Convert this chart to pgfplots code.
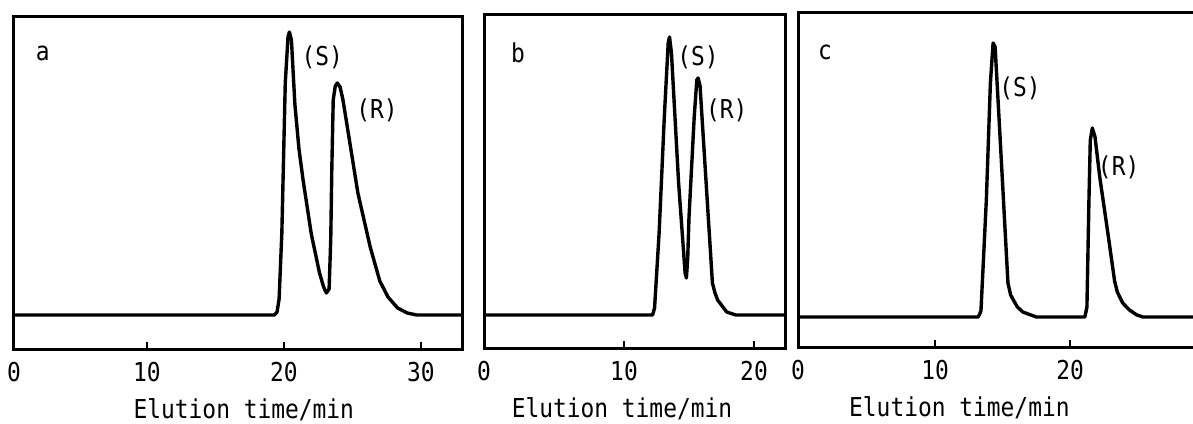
\documentclass[border=0pt]{standalone}
\usepackage{fontspec}
\usepackage{pgfplots}
\pgfplotsset{compat=1.18}
\newfontfamily\mono[FakeStretch=0.88]{DejaVu Sans Mono}
\newcommand\labfont{\mono\fontsize{13}{15}\selectfont}

\pgfplotsset{
  chrom/.style={
    scale only axis, anchor=south west, ymin=0, ytick=\empty, clip=false,
    xtick pos=bottom, tick align=inside, major tick length=3.5pt,
    every tick/.style={black, line width=1pt},
    /pgf/number format/assume math mode=true,
    tick label style={font=\labfont},
    xticklabel style={yshift=-3pt},
    xlabel={Elution time/min},
    xlabel style={font=\labfont, anchor=north, yshift=-1.5pt},
  },
  trace/.style={black, line width=1.7pt, line join=round, no markers},
}
\tikzset{frame/.style={black, line width=1.5pt, line join=miter}}

\begin{document}
\begin{tikzpicture}
\path[use as bounding box] (0,0) rectangle (596.5pt,211.5pt);

% panel a
\begin{axis}[chrom, at={(7pt,37pt)}, width=224pt, height=166pt,
  xmin=0.3, xmax=33, ymax=332,
  xtick={0.3,10,20,30}, xticklabels={0,10,20,30},
  xlabel style={at={(ticklabel cs:0.513)}}]
\addplot[trace] coordinates {(0.3,34) (19.3,34) (19.5,37) (19.65,50) (19.85,116) (20.1,266) (20.3,312) (20.4,317) (20.55,309) (20.8,245) (21.1,200) (21.4,169) (22.0,115) (22.6,76) (22.9,62) (23.1,56) (23.3,60) (23.42,110) (23.5,182) (23.6,249) (23.75,263) (23.9,266) (24.1,262) (24.3,250) (24.7,216) (25.4,156) (26.3,102) (27.0,68) (27.6,52) (28.3,41) (29.0,36) (29.7,34) (33,34)};
\draw[frame] (rel axis cs:0,0) rectangle (rel axis cs:1,1);
\node[font=\labfont] at (axis cs:2.4,296) {a};
\node[font=\labfont] at (axis cs:22.8,292) {(S)};
\node[font=\labfont] at (axis cs:26.8,239) {(R)};
\end{axis}

% panel b
\begin{axis}[chrom, at={(242pt,37.5pt)}, width=150.6pt, height=166.5pt,
  xmin=-0.77, xmax=22.4, ymax=333,
  xtick={-0.77,10,20}, xticklabels={0,10,20},
  xlabel style={at={(ticklabel cs:0.458)}}]
\addplot[trace] coordinates {(-0.77,33) (12.2,33) (12.35,40) (12.7,115) (13.1,231) (13.4,305) (13.5,311) (13.65,295) (14.2,165) (14.7,75) (14.8,70) (14.9,90) (15.0,131) (15.4,231) (15.6,268) (15.7,270) (15.85,262) (16.4,148) (16.8,65) (17.0,55) (17.2,48) (17.9,36) (18.6,33) (22.4,33)};
\draw[frame] (rel axis cs:0,0) rectangle (rel axis cs:1,1);
\node[font=\labfont] at (axis cs:1.85,295) {b};
\node[font=\labfont] at (axis cs:15.7,291) {(S)};
\node[font=\labfont] at (axis cs:17.9,238) {(R)};
\end{axis}

% panel c (cut off at the right)
\begin{axis}[chrom, at={(399pt,38pt)}, width=206.9pt, height=167pt,
  xmin=-0.15, xmax=30.5, ymax=334,
  xtick={-0.15,10,20}, xticklabels={0,10,20},
  xlabel style={at={(ticklabel cs:0.39)}}]
\addplot[trace] coordinates {(-0.15,30) (13.2,30) (13.4,36) (13.8,147) (14.1,264) (14.3,304) (14.45,300) (14.8,214) (15.2,114) (15.4,64) (15.6,52) (15.8,47) (16.1,40) (16.5,35) (17.5,30) (21.1,30) (21.25,40) (21.4,147) (21.5,207) (21.65,219) (21.85,210) (22.2,170) (22.8,114) (23.3,66) (23.5,55) (23.9,44) (24.4,37) (24.95,32) (25.4,30) (30.5,30)};
\draw[frame] (rel axis cs:0,0) rectangle (rel axis cs:1,1);
\node[font=\labfont] at (axis cs:1.85,295) {c};
\node[font=\labfont] at (axis cs:16.3,259) {(S)};
\node[font=\labfont] at (axis cs:23.6,180) {(R)};
\end{axis}
\end{tikzpicture}
\end{document}
